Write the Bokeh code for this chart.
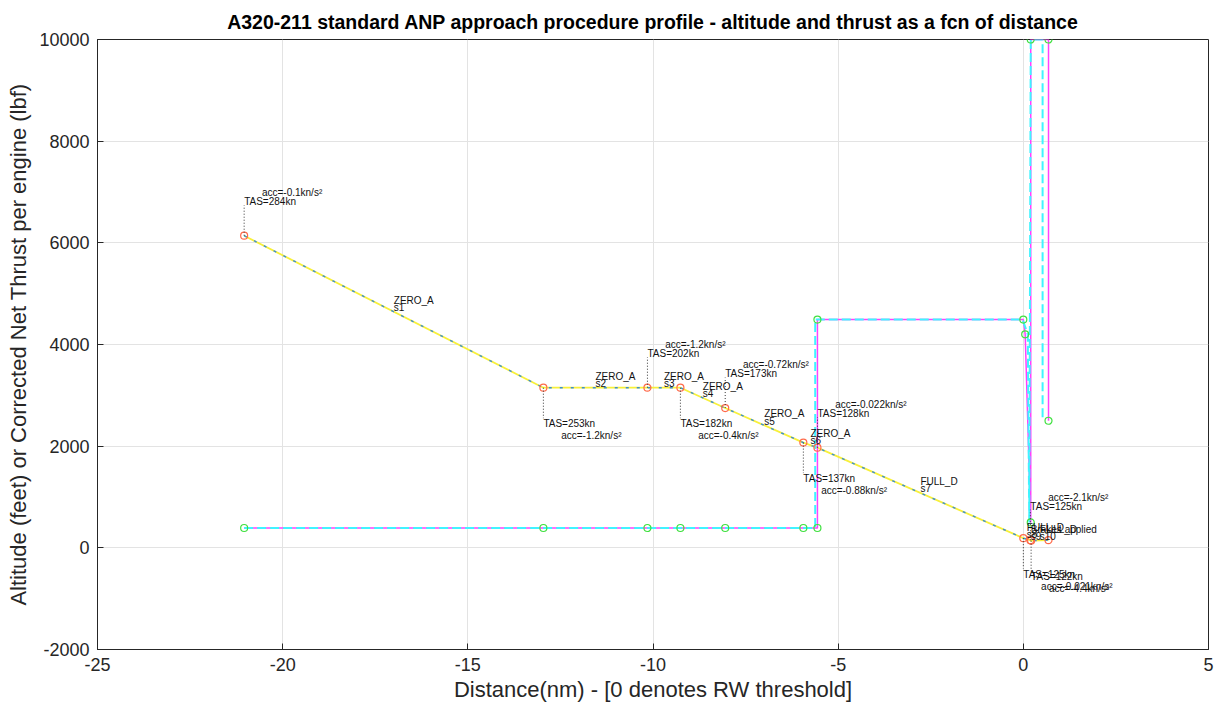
from bokeh.plotting import figure
from bokeh.models import Range1d, FixedTicker, PrintfTickFormatter
from bokeh.core.properties import value
from bokeh.embed import file_html
from bokeh.resources import INLINE

# --- altitude profile (distance in nm from threshold, altitude in ft) ---
alt_dist = [-21.04, -12.96, -10.15, -9.26, -8.05, -5.94, -5.56, 0.0, 0.19, 0.21, 0.68]
alt_ft = [6140, 3150, 3150, 3150, 2750, 2070, 1970, 190, 150, 140, 150]

# speed / acceleration annotations for the first ten profile points
tas_kn = ["284", "253", "202", "182", "173", "137", "128", "125", "125", "122"]
acc_kns2 = ["-0.1", "-1.2", "-1.2", "-0.4", "-0.72", "-0.88", "-0.022", "-0.021", "-2.1", "-4.4"]

# segment flap/config names (segment i joins point i and i+1)
seg_names = ["ZERO_A", "ZERO_A", "ZERO_A", "ZERO_A", "ZERO_A", "ZERO_A",
             "FULL_D", "FULL_D", "Brakes applied", "FULL_D"]

# --- corrected net thrust per engine (lbf) ---
thr_dist = [-21.04, -12.96, -10.15, -9.26, -8.05, -5.94, -5.56, -5.56,
            0.0, 0.05, 0.2, 0.2, 0.68, 0.68]
thr_lbf = [390, 390, 390, 390, 390, 390, 390, 4490,
           4490, 4200, 500, 10000, 10000, 2500]
thr2_dist = [-21.04, -12.96, -10.15, -9.26, -8.05, -5.94, -5.62, -5.62,
             -0.02, 0.12, 0.16, 0.2, 0.52, 0.52]
thr2_lbf = [390, 390, 390, 390, 390, 390, 390, 4490,
            4490, 4200, 500, 10000, 10000, 2500]

x_ticks = [-25, -20, -15, -10, -5, 0, 5]
y_ticks = [-2000, 0, 2000, 4000, 6000, 8000, 10000]

FONT = value("Liberation Sans")

p = figure(frame_width=1111, frame_height=610,
           min_border_left=97, min_border_right=12,
           min_border_top=39, min_border_bottom=59,
           x_range=Range1d(-25, 5), y_range=Range1d(-2000, 10000),
           output_backend="svg", toolbar_location=None,
           title="A320-211 standard ANP approach procedure profile - altitude and thrust as a fcn of distance")

p.background_fill_color = "white"
p.border_fill_color = "white"
p.outline_line_color = "#262626"
p.outline_line_width = 1

p.title.text_font = "Liberation Sans"
p.title.text_font_size = "19.5px"
p.title.text_font_style = "bold"
p.title.text_color = "#000000"
p.title.align = "center"
p.title.standoff = 13
p.title.offset = 12

for ax in (p.xaxis[0], p.yaxis[0]):
    ax.axis_line_color = "#262626"
    ax.major_tick_line_color = "#262626"
    ax.major_tick_in = 6
    ax.major_tick_out = 0
    ax.minor_tick_line_color = None
    ax.major_label_text_font = "Liberation Sans"
    ax.major_label_text_font_size = "18px"
    ax.major_label_text_color = "#262626"
    ax.axis_label_text_font = "Liberation Sans"
    ax.axis_label_text_font_size = "22px"
    ax.axis_label_text_font_style = "normal"
    ax.axis_label_text_color = "#262626"

p.xaxis.ticker = FixedTicker(ticks=x_ticks)
p.yaxis.ticker = FixedTicker(ticks=y_ticks)
p.xaxis.formatter = PrintfTickFormatter(format="%d")
p.yaxis.formatter = PrintfTickFormatter(format="%d")
p.xaxis.axis_label = "Distance(nm) - [0 denotes RW threshold]"
p.yaxis.axis_label = "Altitude (feet) or Corrected Net Thrust per engine (lbf)"
p.xaxis.major_label_standoff = 8
p.yaxis.major_label_standoff = 8
p.xaxis.axis_label_standoff = 3
p.yaxis.axis_label_standoff = 5

p.grid.grid_line_color = "#e3e3e3"
p.grid.grid_line_width = 1

# altitude profile: yellow solid with blue dashed overlay
p.line(alt_dist, alt_ft, line_color="#f7f03a", line_width=1.8)
p.line(alt_dist, alt_ft, line_color="#3d8fd0", line_width=1.4, line_dash="3 8")

# thrust profile: magenta solid with cyan dashed overlay
p.line(thr_dist, thr_lbf, line_color="#ff40ff", line_width=1.5)
p.line(thr2_dist, thr2_lbf, line_color="#3ff4ff", line_width=2.0, line_dash="9 4")

# markers
p.scatter(thr_dist, thr_lbf, marker="circle", size=7, fill_color=None,
          line_color="#40e040", line_width=1.2)
p.scatter(alt_dist, alt_ft, marker="circle", size=7, fill_color=None,
          line_color="#ff6a4a", line_width=1.2)

# point annotations: dotted leader + TAS + acceleration, alternating up/down
n_lab = len(tas_kn)
lead_x0, lead_x1, lead_y0, lead_y1 = [], [], [], []
tas_x, tas_y, tas_t = [], [], []
acc_x, acc_y, acc_t = [], [], []
for i in range(n_lab):
    x, y = alt_dist[i], alt_ft[i]
    up = (i % 2 == 0)
    lead_x0.append(x); lead_x1.append(x)
    lead_y0.append(y)
    lead_y1.append(y + 600 if up else y - 600)
    tas_x.append(x)
    tas_y.append(y + 670 if up else y - 710)
    tas_t.append("TAS=" + tas_kn[i] + "kn")
    acc_x.append(x + 0.48)
    acc_y.append(y + 850 if up else y - 945)
    acc_t.append("acc=" + acc_kns2[i] + "kn/s\u00b2")

p.segment(lead_x0, lead_y0, lead_x1, lead_y1, line_color="#333333",
          line_width=1, line_dash="1 2")

lab_kw = dict(text_font=FONT, text_font_size="10px", text_color="#111111",
              text_align="left", text_baseline="middle")
p.text(x=tas_x, y=tas_y, text=tas_t, **lab_kw)
p.text(x=acc_x, y=acc_y, text=acc_t, **lab_kw)

# segment labels at segment midpoints
mid_x = [(alt_dist[i] + alt_dist[i + 1]) / 2 for i in range(len(seg_names))]
mid_y = [(alt_ft[i] + alt_ft[i + 1]) / 2 for i in range(len(seg_names))]
p.text(x=mid_x, y=[v + 225 for v in mid_y], text=seg_names, **lab_kw)
p.text(x=mid_x, y=[v + 85 for v in mid_y],
       text=["s%d" % (i + 1) for i in range(len(seg_names))], **lab_kw)

open("out.html", "w").write(file_html(p, INLINE))
